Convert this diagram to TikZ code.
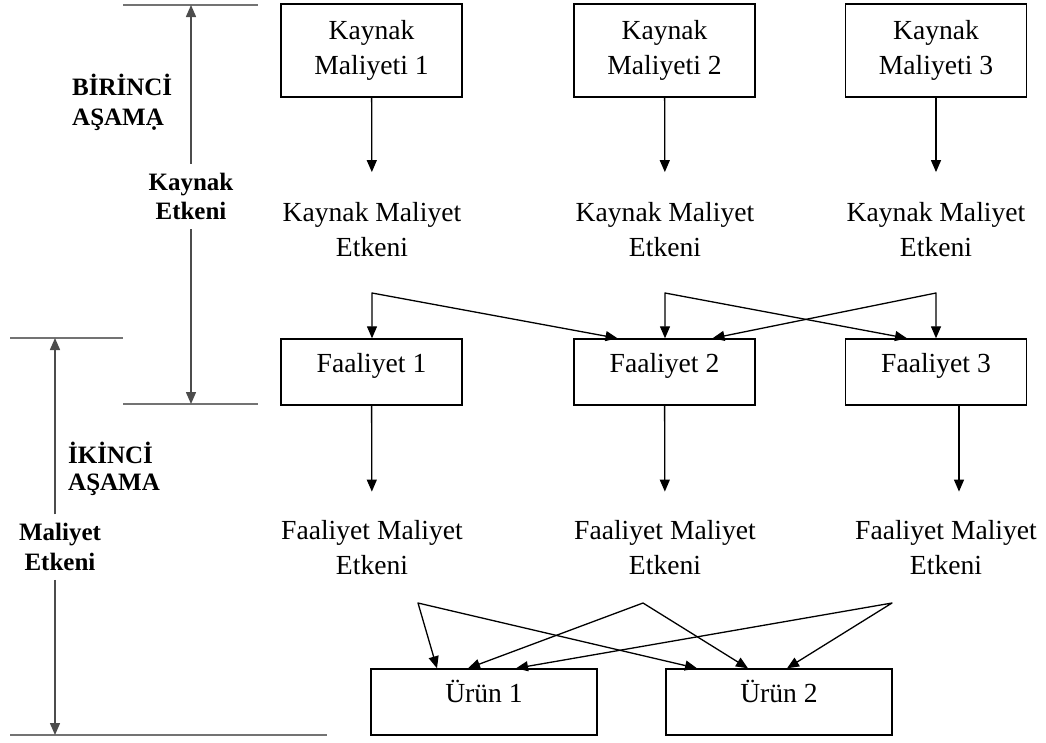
\documentclass[tikz,border=0pt]{standalone}
\usepackage{fontspec}
\setmainfont{Liberation Serif}
\usetikzlibrary{arrows.meta}
\begin{document}
\begin{tikzpicture}[x=1pt,y=-1pt,
  box/.style={draw, line width=1.4pt, inner sep=0pt, minimum width=181pt,
    font=\fontsize{27.6}{35}\selectfont, align=center},
  twobox/.style={box, minimum height=93pt},
  onebox/.style={box, minimum height=66pt, text height=10pt, text depth=10pt},
  drv/.style={inner sep=0pt, align=center, font=\fontsize{27.6}{35}\selectfont},
  side/.style={inner sep=9pt, align=center, font=\bfseries\fontsize{25}{29.5}\selectfont},
  phase/.style={inner sep=0pt, align=left, anchor=west, font=\bfseries\fontsize{25}{30}\selectfont},
  tip/.tip={Triangle[length=12pt,width=10pt]},
  conn/.style={line width=1.3pt, -tip},
  hat/.style={line width=1.3pt, tip-tip, line join=round},
  dim/.style={line width=1.5pt, draw=black!70, -tip},
  rule/.style={line width=2.5pt, draw=black!55},
]
\useasboundingbox (0,0) rectangle (1046,742);

% resource cost boxes
\node[twobox] (k1) at (371.5,50.5) {Kaynak\\Maliyeti 1};
\node[twobox] (k2) at (664.5,50.5) {Kaynak\\Maliyeti 2};
\node[twobox] (k3) at (936,50.5)   {Kaynak\\Maliyeti 3};

% resource cost drivers
\node[drv] (e1) at (372,229.5) {Kaynak Maliyet\\Etkeni};
\node[drv] (e2) at (665,229.5) {Kaynak Maliyet\\Etkeni};
\node[drv] (e3) at (936,229.5) {Kaynak Maliyet\\Etkeni};

% activities
\node[onebox] (f1) at (371.5,372) {Faaliyet 1};
\node[onebox] (f2) at (664.5,372) {Faaliyet 2};
\node[onebox] (f3) at (936,372)   {Faaliyet 3};

% activity cost drivers
\node[drv] (g1) at (372,548) {Faaliyet Maliyet\\Etkeni};
\node[drv] (g2) at (665,548) {Faaliyet Maliyet\\Etkeni};
\node[drv] (g3) at (946,548) {Faaliyet Maliyet\\Etkeni};

% products
\node[onebox, minimum width=226pt] (u1) at (484,702) {Ürün 1};
\node[onebox, minimum width=226pt] (u2) at (779,702) {Ürün 2};

% resource -> driver
\draw[conn, shorten >=30pt] (k1) -- (e1);
\draw[conn, shorten >=30pt] (k2) -- (e2);
\draw[conn, shorten >=30pt] (k3) -- (e3);

% driver -> activities
\coordinate (j1) at (372,293);
\coordinate (j2) at (665,293);
\coordinate (j3) at (936,293);
\draw[hat] (j1 |- f1.north) -- (j1) -- ([xshift=-47pt]f2.north);
\draw[hat] (j2 |- f2.north) -- (j2) -- ([xshift=-29pt]f3.north);
\draw[hat] (j3 |- f3.north) -- (j3) -- ([xshift=48pt]f2.north);

% activity -> driver
\draw[conn, shorten >=29pt] (f1) -- (g1);
\draw[conn, shorten >=29pt] (f2) -- (g2);
\draw[conn, shorten >=29pt] ([xshift=23pt]f3.south) -- ([xshift=13pt]g3.north);

% driver -> products
\coordinate (a1) at (418,603);
\coordinate (a2) at (643,603);
\coordinate (a3) at (892,603);
\draw[hat] ([xshift=-47pt]u1.north) -- (a1) -- ([xshift=-82pt]u2.north);
\draw[hat] ([xshift=-16pt]u1.north) -- (a2) -- ([xshift=-31pt]u2.north);
\draw[hat] ([xshift=32pt]u1.north)  -- (a3) -- ([xshift=8pt]u2.north);

% stage brackets on the left
\draw[rule] (123,5) -- (258,5);
\draw[rule] (123,404) -- (258,404);
\draw[rule] (10,338) -- (123,338);
\draw[rule] (10,735) -- (327,735);

\node[phase] (p1) at (72,102.5) {BİRİNCİ\\AŞAMẠ};
\node[phase, font=\bfseries\fontsize{25}{27}\selectfont] (p2) at (68,469) {İKİNCİ\\AŞAMA};

\node[side] (s1) at (191,196.5) {Kaynak\\Etkeni};
\coordinate (s1t) at (191,5);
\coordinate (s1b) at (191,404);
\draw[dim] (s1) -- (s1t);
\draw[dim] (s1) -- (s1b);

\node[side] (s2) at (60,547) {Maliyet\\Etkeni};
\coordinate (s2t) at (55,338);
\coordinate (s2b) at (55,735);
\draw[dim] ([xshift=-5pt]s2.north) -- (s2t);
\draw[dim] ([xshift=-5pt]s2.south) -- (s2b);
\end{tikzpicture}
\end{document}
